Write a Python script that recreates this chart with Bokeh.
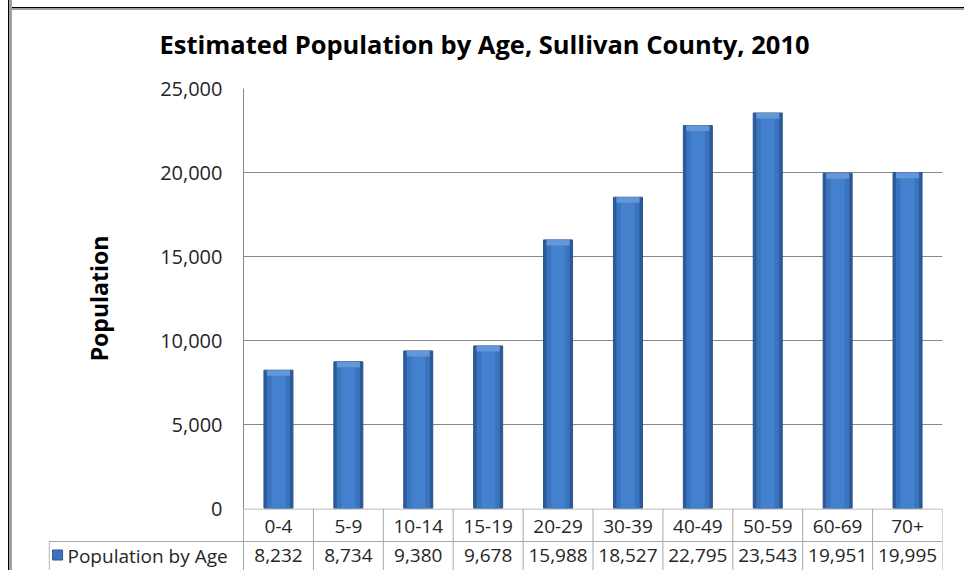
from bokeh.plotting import figure
from bokeh.models import Range1d, FixedTicker, NumeralTickFormatter, ColumnDataSource, Div
from bokeh.core.properties import value
from bokeh.embed import file_html
from bokeh.resources import INLINE

categories = ["0-4", "5-9", "10-14", "15-19", "20-29", "30-39", "40-49", "50-59", "60-69", "70+"]
population = [8232, 8734, 9380, 9678, 15988, 18527, 22795, 23543, 19951, 19995]
y_ticks = [0, 5000, 10000, 15000, 20000, 25000]
title_text = "Estimated Population by Age, Sullivan County, 2010"
y_label = "Population"
series_name = "Population by Age"

FONT = "Open Sans"
n = len(categories)
xs = [i + 0.5 for i in range(n)]
bevel = 330  # visual bevel depth at bar tops (in data units)
src = ColumnDataSource(dict(x=xs, cat=categories, pop=population,
                            bev=[v - bevel for v in population],
                            lab=[f"{v:,}" for v in population]))

W = 952
OV = 14     # overlap between chart canvas and table canvas
TOP = 96    # space above the plot area inside the chart canvas
SHIFT = 23  # chart canvas starts above the top frame line

# top frame line of the whole picture
frame_line = Div(text="", width=955, height=0,
                 styles={"margin-left": "9px", "margin-top": "8px", "vertical-align": "top",
                         "border-top": "2px solid #a0a0a0",
                         "box-shadow": "0 -1px 0 #000000", "overflow": "hidden"})

# ---------------- main chart ----------------
p = figure(width=W, height=TOP + 420 + OV, output_backend="svg", toolbar_location=None,
           x_range=Range1d(0, n), y_range=Range1d(0, 25000),
           x_axis_location=None, min_border_left=231, min_border_right=22,
           min_border_top=TOP, min_border_bottom=OV,
           background_fill_color="white", border_fill_color=None)
p.outline_line_color = None
p.xgrid.visible = False
p.ygrid.grid_line_color = "#878787"
p.ygrid.ticker = FixedTicker(ticks=y_ticks)
ax = p.yaxis[0]
ax.ticker = FixedTicker(ticks=y_ticks)
ax.formatter = NumeralTickFormatter(format="0,0")
ax.axis_line_color = "#878787"
ax.major_tick_line_color = None
ax.minor_tick_line_color = None
ax.major_label_standoff = 15
ax.major_label_text_font = FONT
ax.major_label_text_font_size = "20px"
ax.major_label_text_color = "#262626"
ax.axis_label = y_label
ax.axis_label_text_font = FONT
ax.axis_label_text_font_size = "23px"
ax.axis_label_text_font_style = "bold"
ax.axis_label_text_color = "black"
ax.axis_label_standoff = 42

p.title.text = title_text
p.title.align = "left"
p.title.offset = -84
p.title.standoff = 55
p.title.text_font = FONT
p.title.text_font_size = "25.5px"
p.title.text_font_style = "bold"
p.title.text_color = "black"

# layered bars for a cylinder-like shading
p.vbar(x="x", top="pop", width=0.415, bottom=0, source=src,
       fill_color="#2c5b98", line_color="#2a5590", line_width=1)
p.vbar(x="x", top="pop", width=0.33, bottom=0, source=src,
       fill_color="#3a74bf", line_color=None)
p.vbar(x="x", top="pop", width=0.2, bottom=0, source=src,
       fill_color="#4381cf", line_color=None)
p.vbar(x="x", top="pop", bottom="bev", width=0.33, source=src,
       fill_color="#6497d8", line_color=None)

p.styles = {"margin-left": "9px", "margin-top": f"-{SHIFT}px", "vertical-align": "top",
            "border-left": "3px solid #a0a0a0", "box-shadow": "-1px 0 0 #000000"}

# ---------------- data table ----------------
left_ext = 2.79
TH = 62
t = figure(width=W, height=TH, output_backend="svg", toolbar_location=None,
           x_range=Range1d(-left_ext, n), y_range=Range1d(0, TH),
           x_axis_location=None, y_axis_location=None,
           min_border_left=36, min_border_right=22,
           min_border_top=0, min_border_bottom=0,
           background_fill_color=None, border_fill_color=None)
t.outline_line_color = None
t.grid.visible = False
LC = "#a6a6a6"
row_line = 29
# vertical separators of category columns
t.segment(x0=list(range(n + 1)), y0=[0] * (n + 1), x1=list(range(n + 1)), y1=[TH] * (n + 1),
          line_color=LC, line_width=1)
# horizontal lines
t.segment(x0=[0, -left_ext + 0.01], y0=[TH - 0.5, row_line], x1=[n, n], y1=[TH - 0.5, row_line],
          line_color=LC, line_width=1)
# legend cell left edge
t.segment(x0=[-left_ext + 0.01], y0=[0], x1=[-left_ext + 0.01], y1=[row_line],
          line_color=LC, line_width=1)

t.text(x="x", y=(TH + row_line) / 2 - 1, text="cat", source=src, text_align="center",
       text_baseline="middle", text_font=value(FONT), text_font_size="19px",
       text_color="#262626")
t.text(x="x", y=15, text="lab", source=src, text_align="center", text_baseline="middle",
       text_font=value(FONT), text_font_size="19px", text_color="#262626")
t.scatter(x=[-left_ext + 0.13], y=[15.5], marker="square", size=10,
          fill_color="#3a74bf", line_color="#2a5590")
t.text(x=[-left_ext + 0.272], y=[15], text=[series_name], text_align="left",
       text_baseline="middle", text_font=value(FONT), text_font_size="19px",
       text_color="#262626")
t.styles = {"margin-left": "9px", "margin-top": f"-{OV}px", "vertical-align": "top",
            "border-left": "3px solid #a0a0a0", "box-shadow": "-1px 0 0 #000000"}

open("out.html", "w").write(file_html([frame_line, p, t], INLINE))
